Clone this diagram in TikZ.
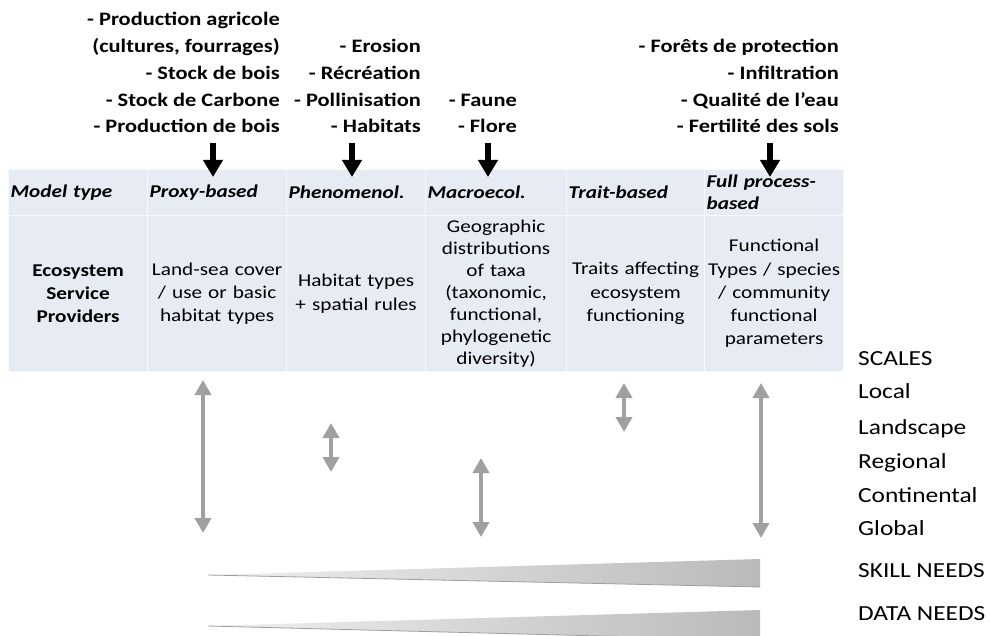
\documentclass[tikz,border=0pt]{standalone}
\usepackage{fontspec}
\setmainfont{Carlito}[FakeStretch=1.18]
\usetikzlibrary{arrows.meta}
\definecolor{cellfill}{RGB}{231,235,244}
\definecolor{gridline}{RGB}{247,249,252}
\definecolor{scalegray}{RGB}{160,160,160}
\tikzset{
  hcell/.style={draw=gridline, line width=1.2pt, fill=cellfill, inner xsep=2pt, inner ysep=0pt,
    minimum height=46pt, anchor=north west, align=left,
    font=\fontsize{18}{22}\selectfont\bfseries\itshape},
  bcell/.style={draw=gridline, line width=1.2pt, fill=cellfill, inner xsep=2pt, inner ysep=0pt,
    minimum height=156pt, anchor=north west, align=center,
    font=\fontsize{18}{23.3}\selectfont},
  svc/.style={anchor=base east, inner sep=0pt, font=\fontsize{19}{23}\selectfont\bfseries},
  scalelbl/.style={anchor=base west, inner sep=0pt, font=\fontsize{21.5}{25}\selectfont},
  blackarrow/.style={line width=5.5pt, -{Triangle[width=19pt,length=17pt]}},
  grayarrow/.style={draw=scalegray, line width=3.6pt,
    {Triangle[width=16pt,length=15pt]}-{Triangle[width=16pt,length=15pt]}},
}
\begin{document}
\begin{tikzpicture}[x=1pt,y=-1pt]
\useasboundingbox (0,0) rectangle (990,636);
\fill[white] (0,0) rectangle (990,636);

% ---- table header row
\node[hcell, text width=135pt] (h1) at (8,169) {Model type};
\node[hcell, text width=135pt] (h2) at (147,169) {Proxy-based};
\node[hcell, text width=135pt] (h3) at (286,169) {Phenomenol.};
\node[hcell, text width=137pt] (h4) at (425,169) {Macroecol.};
\node[hcell, text width=134pt] (h5) at (566,169) {Trait-based};
\node[hcell, text width=135pt] (h6) at (704,169) {Full process-\\based};

% ---- table body row
\node[bcell, text width=135pt, font=\fontsize{18}{23.3}\selectfont\bfseries] (b1) at (8,215) {Ecosystem\\Service\\Providers};
\node[bcell, text width=135pt] (b2) at (147,215) {Land-sea cover\\/ use or basic\\habitat types};
\node[bcell, text width=135pt] (b3) at (286,215) {Habitat types\\+ spatial rules};
\node[bcell, text width=137pt, font=\fontsize{18}{22}\selectfont] (b4) at (425,215) {Geographic\\distributions\\of taxa\\(taxonomic,\\functional,\\phylogenetic\\diversity)};
\node[bcell, text width=134pt] (b5) at (566,215) {Traits affecting\\ecosystem\\functioning};
\node[bcell, text width=135pt] (b6) at (704,215) {Functional\\Types / species\\/ community\\functional\\parameters};

% ---- ecosystem services lists
\node[svc] (s1a) at (280,26) {- Production agricole};
\node[svc] (s1b) at (280,53) {(cultures, fourrages)};
\node[svc] (s1c) at (280,80) {- Stock de bois};
\node[svc] (s1d) at (280,107) {- Stock de Carbone};
\node[svc] (s1e) at (280,133) {- Production de bois};

\node[svc] (s2a) at (421,53) {- Erosion};
\node[svc] (s2b) at (421,80) {- Récréation};
\node[svc] (s2c) at (421,107) {- Pollinisation};
\node[svc] (s2d) at (421,133) {- Habitats};

\node[svc] (s3a) at (517,107) {- Faune};
\node[svc] (s3b) at (517,133) {- Flore};

\node[svc] (s4a) at (839,53) {- Forêts de protection};
\node[svc] (s4b) at (839,80) {- Infiltration};
\node[svc] (s4c) at (839,107) {- Qualité de l’eau};
\node[svc] (s4d) at (839,133) {- Fertilité des sols};

% ---- black arrows
\coordinate (a1s) at (213,143); \coordinate (a1e) at (213,177);
\coordinate (a2s) at (352,143); \coordinate (a2e) at (352,177);
\coordinate (a3s) at (488,143); \coordinate (a3e) at (488,177);
\coordinate (a4s) at (770,143); \coordinate (a4e) at (770,177);
\draw[blackarrow] (a1s) -- (a1e);
\draw[blackarrow] (a2s) -- (a2e);
\draw[blackarrow] (a3s) -- (a3e);
\draw[blackarrow] (a4s) -- (a4e);

% ---- scale labels
\node[scalelbl] (sc0) at (858,365) {SCALES};
\node[scalelbl] (sc1) at (858,398) {Local};
\node[scalelbl] (sc2) at (858,434) {Landscape};
\node[scalelbl] (sc3) at (858,468) {Regional};
\node[scalelbl] (sc4) at (858,502) {Continental};
\node[scalelbl] (sc5) at (858,535) {Global};
\node[scalelbl] (skill) at (858,577) {SKILL NEEDS};
\node[scalelbl] (data) at (858,620) {DATA NEEDS};

% ---- scale ranges (gray double arrows)
\coordinate (g1t) at (203,380); \coordinate (g1b) at (203,533);
\coordinate (g2t) at (331,423); \coordinate (g2b) at (331,472);
\coordinate (g3t) at (481,458); \coordinate (g3b) at (481,537);
\coordinate (g4t) at (624,383); \coordinate (g4b) at (624,432);
\coordinate (g5t) at (761,383); \coordinate (g5b) at (761,538);
\draw[grayarrow] (g1t) -- (g1b);
\draw[grayarrow] (g2t) -- (g2b);
\draw[grayarrow] (g3t) -- (g3b);
\draw[grayarrow] (g4t) -- (g4b);
\draw[grayarrow] (g5t) -- (g5b);

% ---- needs wedges
\shade[left color=black!6, right color=black!27] (208,575) -- (760,559) -- (760,587) -- cycle;
\draw[black!38, line width=0.8pt] (208,575) -- (760,587);
\shade[left color=black!6, right color=black!27] (208,626) -- (760,610) -- (760,640) -- cycle;
\draw[black!38, line width=0.8pt] (208,626) -- (760,640);
\end{tikzpicture}
\end{document}
